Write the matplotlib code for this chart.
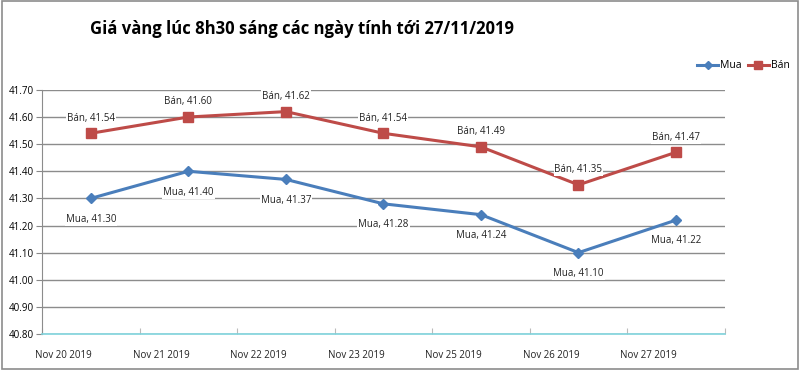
import matplotlib
matplotlib.use("Agg")
import matplotlib.pyplot as plt
from matplotlib.patches import Rectangle

categories = ["Nov 20 2019", "Nov 21 2019", "Nov 22 2019", "Nov 23 2019",
              "Nov 25 2019", "Nov 26 2019", "Nov 27 2019"]
mua = [41.30, 41.40, 41.37, 41.28, 41.24, 41.10, 41.22]
ban = [41.54, 41.60, 41.62, 41.54, 41.49, 41.35, 41.47]
yticks = [40.80, 40.90, 41.00, 41.10, 41.20, 41.30, 41.40, 41.50, 41.60, 41.70]
title = "Giá vàng lúc 8h30 sáng các ngày tính tới 27/11/2019"

plt.rcParams['font.family'] = ['Open Sans', 'DejaVu Sans']

fig = plt.figure(figsize=(8, 3.7), dpi=100)
fig.patches.append(Rectangle((0.002, 0.003), 0.995, 0.994, transform=fig.transFigure,
                             fill=False, edgecolor='#8c8c8c', linewidth=1.2))
ax = fig.add_axes([0.0525, 0.0973, 0.8535, 0.6597])

xs = [i + 0.5 for i in range(len(categories))]
blue = '#4a7ebb'
red = '#be4b48'
ax.plot(xs, mua, color=blue, linewidth=2.2, marker='D', markersize=5, label='Mua', zorder=3)
ax.plot(xs, ban, color=red, linewidth=2.2, marker='s', markersize=7, label='Bán', zorder=3)

for x, v in zip(xs, mua):
    ax.annotate(f"Mua, {v:.2f}", (x, v), xytext=(0, -11), textcoords='offset points',
                ha='center', va='top', fontsize=7, color='#222222',
                bbox=dict(boxstyle='square,pad=0.1', fc='white', ec='none'), zorder=4)
for x, v in zip(xs, ban):
    ax.annotate(f"Bán, {v:.2f}", (x, v), xytext=(0, 7), textcoords='offset points',
                ha='center', va='bottom', fontsize=7, color='#222222',
                bbox=dict(boxstyle='square,pad=0.1', fc='white', ec='none'), zorder=4)

ax.set_xlim(0, len(categories))
ax.set_ylim(40.80, 41.70)
ax.set_yticks(yticks)
ax.set_yticklabels([f"{t:.2f}" for t in yticks], fontsize=7)
ax.set_xticks(range(len(categories) + 1))
ax.set_xticklabels([])
for i, c in enumerate(categories):
    ax.text(i + 0.22, -0.09, c, transform=ax.get_xaxis_transform(), ha='center',
            va='center', fontsize=7, color='#222222')
ax.tick_params(axis='x', length=4, color='#bbbbbb', direction='in')
ax.tick_params(axis='y', length=4, color='#888888', pad=2)
ax.grid(axis='y', color='#8c8c8c', linewidth=1)
ax.set_axisbelow(True)
for s in ['top', 'right']:
    ax.spines[s].set_visible(False)
ax.spines['left'].set_color('#8c8c8c')
ax.spines['bottom'].set_color('#7fd3dc')
ax.spines['bottom'].set_linewidth(1.2)

fig.text(0.113, 0.922, title, fontsize=12, fontweight='bold', ha='left', va='center', color='black')

ax.legend(loc='center right', bbox_to_anchor=(0.995, 0.822), bbox_transform=fig.transFigure,
          ncol=2, frameon=False, fontsize=7.5, handlelength=2.0, columnspacing=0.6,
          handletextpad=0.2, borderpad=0.1, markerscale=0.8)

fig.savefig("out.png", dpi=100)
